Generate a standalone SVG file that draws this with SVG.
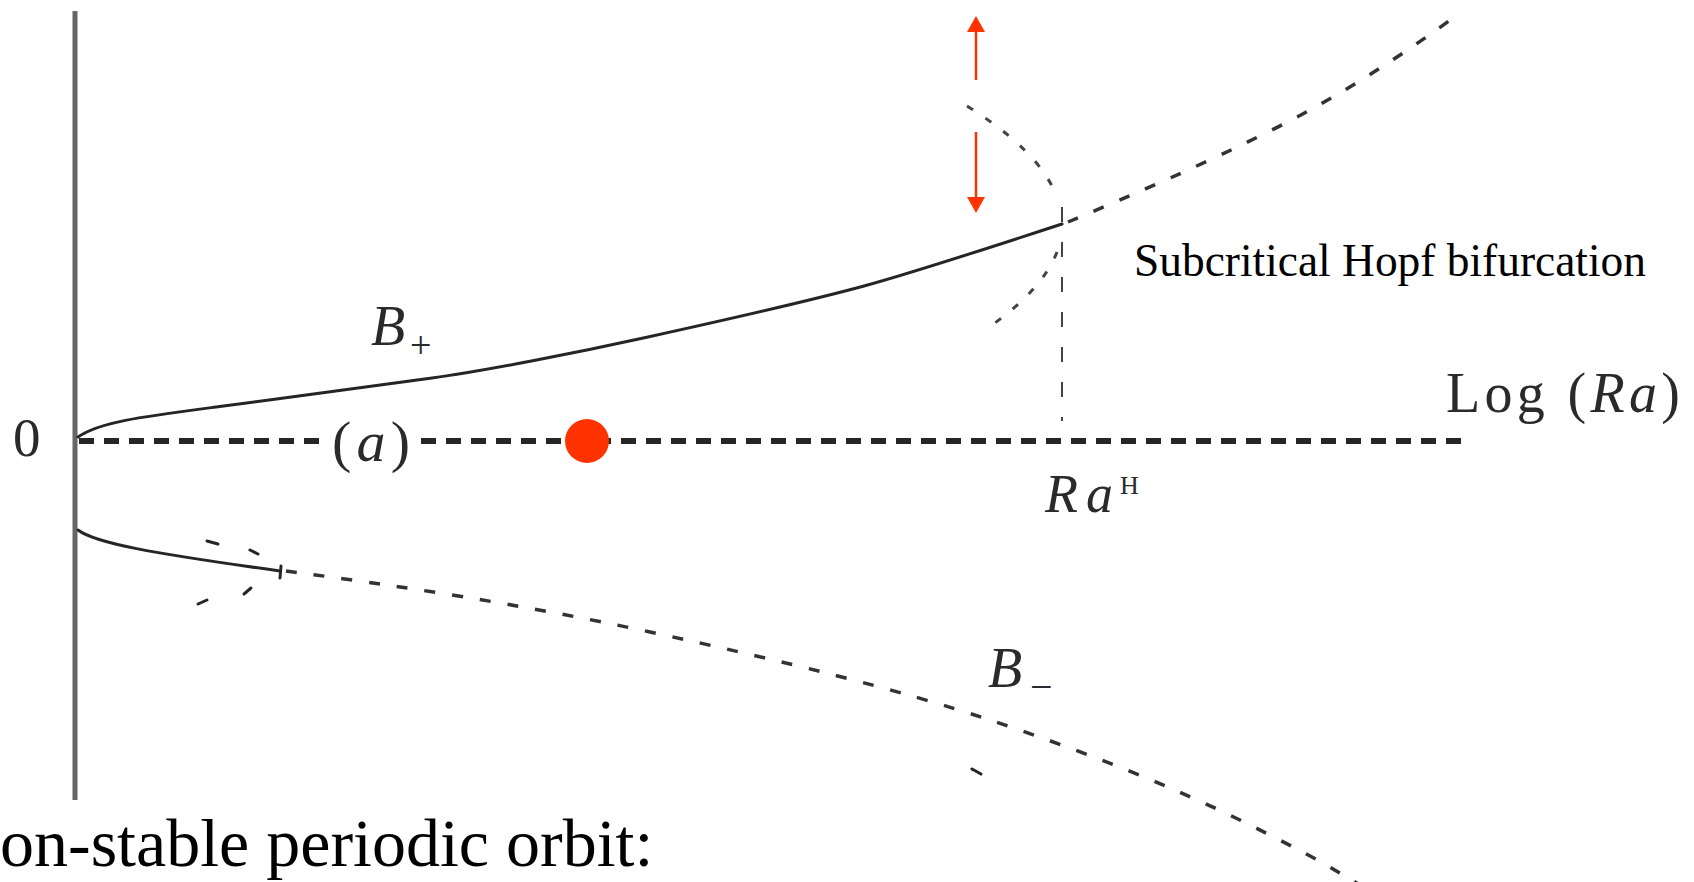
<svg xmlns="http://www.w3.org/2000/svg" width="1694" height="882" viewBox="0 0 1694 882">
<defs>
<style>
.lbl{font-family:"Liberation Serif","Times New Roman",serif;fill:#2a2a2a}
.it{font-style:italic}
.solid{fill:none;stroke:#252525;stroke-width:3;stroke-linecap:round}
.dash{fill:none;stroke:#333;stroke-width:3.5;stroke-dasharray:11 17}
.sparse{fill:none;stroke:#444;stroke-width:3;stroke-dasharray:7 15}
.axisdash{fill:none;stroke:#262626;stroke-width:6;stroke-dasharray:15 10}
.vdash{fill:none;stroke:#444;stroke-width:2;stroke-dasharray:15 20}
.red{stroke:#ff3300;stroke-width:2.5;fill:none}
.bold{font-family:"Liberation Serif","Times New Roman",serif;fill:#000}
</style>
<marker id="ah" viewBox="0 0 16 18" refX="2" refY="9" markerWidth="16" markerHeight="18" markerUnits="userSpaceOnUse" orient="auto">
<path d="M0,0 L16,9 L0,18 Z" fill="#ff3300"/>
</marker>
</defs>
<rect x="0" y="0" width="1694" height="882" fill="#fff"/>

<g id="axes">
<line x1="75" y1="11" x2="75" y2="800" stroke="#666" stroke-width="5"/>
<line class="axisdash" x1="79" y1="441" x2="324" y2="441"/>
<line class="axisdash" x1="421" y1="441" x2="1469" y2="441"/>
<line class="vdash" x1="1062" y1="207" x2="1062" y2="421"/>
</g>

<g id="connectors">
<path id="bplus-stable" class="solid" d="M78,437 C100,422 140,417 216,407 S380,385 432,378 S580,352 648,337 S820,298 864,286 S1010,241 1062,224"/>
<path id="bplus-unstable" class="dash" d="M1068,222 C1130,196 1200,166 1272,130 S1410,50 1461,12"/>
<path id="cycle-upper" class="sparse" d="M967,106 Q1039,151 1056,195"/>
<path id="cycle-lower" class="sparse" d="M1057,252 Q1042,291 985,330"/>
<path id="bminus-stable" class="solid" d="M78,530 C95,543 150,553 280,571"/>
<line class="solid" x1="281" y1="566" x2="280" y2="578"/>
<path id="bminus-unstable" class="dash" d="M286,571 C400,586 520,604 650,632 S900,690 990,720 S1170,785 1250,825 S1330,868 1362,886"/>
<g id="bminus-branch" class="solid">
<line x1="207" y1="541" x2="218" y2="544"/>
<line x1="250" y1="550" x2="258" y2="554"/>
<line x1="244" y1="594" x2="251" y2="588"/>
<line x1="198" y1="604" x2="207" y2="600"/>
<line x1="972" y1="769" x2="981" y2="774"/>
</g>
<line id="arrow-up" class="red" x1="976" y1="80" x2="976" y2="30" marker-end="url(#ah)"/>
<line id="arrow-down" class="red" x1="976" y1="132" x2="976" y2="199" marker-end="url(#ah)"/>
</g>

<g id="node-origin"><text class="lbl" x="13" y="456" font-size="55">0</text></g>
<g id="node-a"><text class="lbl" x="332" y="461" font-size="58" textLength="78" lengthAdjust="spacing">(<tspan class="it">a</tspan>)</text></g>
<g id="node-dot"><circle cx="587" cy="441" r="22" fill="#ff3300"/></g>
<g id="node-bplus"><text class="lbl it" x="371" y="345" font-size="56">B</text><text class="lbl" x="410" y="358" font-size="38">+</text></g>
<g id="node-bminus"><text class="lbl it" x="988" y="687" font-size="56">B</text><text class="lbl" x="1030" y="700" font-size="40">−</text></g>
<g id="node-log"><text class="lbl" x="1446" y="412" font-size="56" textLength="234" lengthAdjust="spacing">Log (<tspan class="it">Ra</tspan>)</text></g>
<g id="node-raH"><text class="lbl it" x="1045" y="512" font-size="54" textLength="68" lengthAdjust="spacing">Ra</text><text class="lbl" x="1120" y="494" font-size="26">H</text></g>
<g id="node-hopf"><text class="bold" x="1134" y="276" font-size="46" textLength="512" lengthAdjust="spacingAndGlyphs">Subcritical Hopf bifurcation</text></g>
<g id="node-caption"><text class="bold" x="0" y="866" font-size="68">on-stable periodic orbit:</text></g>
</svg>
